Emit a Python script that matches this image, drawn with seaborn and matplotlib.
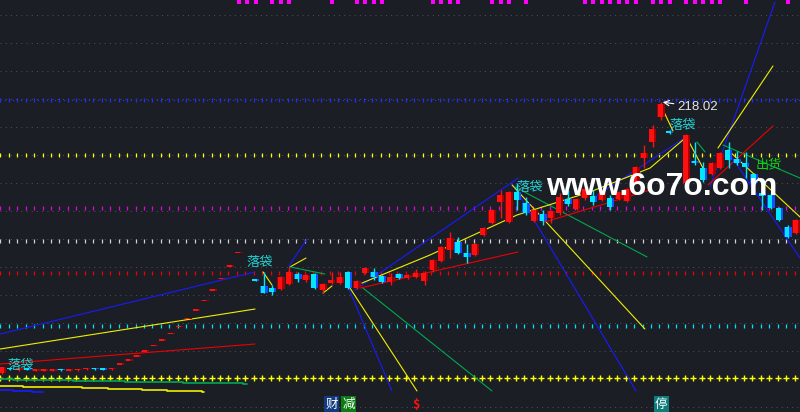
import numpy as np
import pandas as pd
import matplotlib.pyplot as plt
import seaborn as sns

# bar index on x, price on y
opens = [23.0, 26.6, 25.2, 25.9, 24.5, 24.5, 24.6, 25.6, 24.5, 25.0,
         25.6, 26.2, 26.0, 25.9, 28.8, 31.7, 34.9, 38.3, 42.2, 46.4,
         51.0, 56.1, 61.7, 67.9, 74.7, 82.2, 90.4, 99.4, 109.4, np.nan,
         90.4, 85.7, 84.2, 83.5, 87.1, 94.3, 90.0, 94.3, 82.8, 87.8,
         87.8, 95.8, 84.2, 95.0, 95.8, 92.9, 88.6, 94.3, 91.4, 92.2,
         89.3, 97.2, 103.7, 111.6, 117.4, 109.4, 108.0, 122.4, 131.0, 146.2,
         131.8, 153.4, 145.4, 132.5, 137.5, 134.6, 138.2, 148.3, 141.1, 149.0,
         150.5, 147.6, 149.0, 148.3, 146.9, 159.8, 177.8, 189.4, 207.4, 197.3,
         np.nan, 159.8, 175.7, 170.6, 166.3, 170.6, 183.6, 177.1, 174.2, 166.3,
         152.6, 151.2, 141.8, 128.2, 123.8]
highs = [27.4, 27.0, 26.2, 26.3, 25.6, 25.4, 25.6, 25.9, 25.5, 25.9,
         26.6, 26.5, 26.3, 26.9, 28.8, 31.7, 34.9, 38.3, 42.2, 46.4,
         51.0, 56.1, 61.7, 67.9, 74.7, 82.2, 90.4, 99.4, 109.4, np.nan,
         90.4, 95.8, 86.4, 92.9, 99.4, 95.8, 94.3, 95.0, 87.8, 95.8,
         95.8, 96.5, 90.0, 99.4, 98.6, 93.6, 95.0, 95.0, 94.3, 97.9,
         96.5, 105.1, 114.5, 124.6, 121.0, 115.9, 116.6, 128.2, 141.1, 154.8,
         154.1, 159.8, 149.8, 141.1, 140.4, 140.4, 152.6, 154.8, 149.0, 163.4,
         154.8, 154.1, 151.2, 154.1, 156.2, 172.1, 187.2, 201.6, 218.02, 198.0,
         np.nan, 195.1, 189.4, 175.0, 175.0, 182.2, 189.4, 182.9, 182.2, 167.0,
         157.0, 152.6, 142.6, 129.6, 134.0]
lows = [22.5, 25.5, 24.8, 24.9, 24.2, 24.2, 24.3, 24.7, 24.2, 24.8,
        25.2, 25.3, 25.1, 25.5, 28.8, 31.7, 34.9, 38.3, 42.2, 46.4,
        51.0, 56.1, 61.7, 67.9, 74.7, 82.2, 90.4, 99.4, 109.4, np.nan,
        89.6, 80.6, 79.2, 82.8, 86.4, 88.6, 88.6, 83.5, 80.6, 87.1,
        87.1, 83.5, 83.5, 94.3, 90.0, 87.8, 86.4, 90.7, 90.7, 91.4,
        86.4, 95.8, 103.0, 105.8, 108.7, 102.2, 107.3, 121.7, 130.3, 134.6,
        131.0, 140.4, 136.8, 131.8, 129.6, 131.0, 136.8, 143.3, 140.4, 147.6,
        144.0, 146.9, 140.4, 147.6, 146.2, 159.1, 170.6, 185.8, 205.2, 195.1,
        np.nan, 158.4, 172.8, 160.6, 165.6, 169.9, 170.6, 172.8, 163.4, 159.1,
        140.4, 141.1, 132.5, 120.2, 123.1]
closes = [27.4, 25.9, 25.9, 25.2, 25.2, 25.0, 25.2, 25.0, 25.2, 25.6,
          25.9, 25.6, 25.4, 26.2, 28.8, 31.7, 34.9, 38.3, 42.2, 46.4,
          51.0, 56.1, 61.7, 67.9, 74.7, 82.2, 90.4, 99.4, 109.4, np.nan,
          89.6, 80.6, 81.4, 92.2, 95.8, 90.7, 93.6, 84.2, 87.1, 90.0,
          92.2, 84.2, 89.3, 98.6, 92.2, 88.6, 92.2, 91.4, 93.6, 95.0,
          95.0, 104.4, 113.8, 120.2, 109.4, 106.6, 115.9, 127.4, 140.4, 151.2,
          153.4, 147.6, 138.2, 140.4, 132.5, 139.7, 149.8, 144.7, 148.3, 155.5,
          146.2, 152.6, 142.6, 153.4, 155.5, 171.4, 181.4, 198.7, 216.5, 195.8,
          np.nan, 194.4, 174.2, 162.0, 174.2, 181.4, 176.4, 174.2, 171.4, 159.8,
          150.5, 141.8, 133.2, 121.0, 133.2]

# horizontal levels: price, colour, marker
level_prices = [219.6, 180.0, 141.5, 118.1, 95.0, 56.9, 19.4]
level_colors = ['#2030ff', '#ffff00', '#e800e8', '#d0d0d0', '#ee0000', '#00e0ff', '#ffff00']
level_marks = ['|', '|', '|', '|', '|', '|', '+']

# trend lines (x0, p0, x1, p1)
blue_lines = [(-0.24, 51.1, 29.94, 95.8), (33.96, 100.1, 36.09, 119.5),
              (41.78, 82.8, 61.07, 163.4), (40.95, 85.0, 46.15, 10.1),
              (60.36, 159.8, 75.03, 10.1), (69.59, 147.6, 80.59, 191.5),
              (83.79, 157.0, 91.48, 290.2), (85.80, 183.6, 94.44, 105.8)]
yellow_lines = [(-0.24, 40.3, 29.94, 69.1), (34.08, 99.4, 35.97, 105.8),
                (30.89, 95.8, 31.95, 86.4), (37.99, 80.6, 39.05, 85.7),
                (41.18, 84.2, 49.11, 10.1), (60.36, 158.4, 76.09, 54.7),
                (84.73, 185.0, 91.24, 244.1), (85.92, 183.6, 94.44, 135.4),
                (78.34, 211.0, 79.41, 197.3), (81.18, 190.8, 82.96, 170.6)]
green_lines = [(34.08, 99.4, 38.22, 94.3), (42.72, 84.2, 57.99, 10.1),
               (60.71, 157.0, 76.33, 106.6), (85.33, 187.2, 94.44, 163.4),
               (82.25, 189.4, 83.20, 182.2)]
red_lines = [(-0.24, 29.5, 29.94, 43.9), (42.37, 84.2, 61.07, 110.2),
             (64.26, 131.8, 76.69, 154.8), (83.55, 158.4, 91.24, 200.9)]
yellow_ma_x = [42.60, 50.65, 60.95, 69.59, 76.69, 80.59]
yellow_ma_p = [87.8, 108.0, 136.8, 153.4, 170.6, 190.8]

# step lines along the bottom-left
ystep_x = [-0.24, 2.49, 6.51, 9.47, 12.54, 16.57, 19.53, 23.67, 23.91]
ystep_p = [13.7, 13.0, 13.0, 12.2, 11.5, 10.8, 10.1, 9.4, 9.4]
gstep_x = [-0.24, 1.30, 8.40, 14.56, 21.42, 28.52, 28.99]
gstep_p = [18.7, 18.0, 17.3, 16.6, 15.8, 15.1, 15.1]
bstep_x = [-0.24, 1.30, 3.55, 4.85]
bstep_p = [10.8, 10.1, 9.4, 9.4]

# markers / labels
top_marks = [28, 29, 30, 32, 33, 34, 39, 42, 43, 44, 45, 51, 52, 53, 54, 58, 59, 60, 62,
             69, 70, 71, 72, 73, 74, 75, 77, 78, 79, 81, 82, 83, 84, 85, 88, 93]
take_profit_x = [2.19, 30.47, 62.43, 80.53]
take_profit_p = [28.4, 102.6, 156.6, 201.2]
signal_idx = [39, 41, 49, 78]
signal_text = ['财', '减', '$', '停']
signal_bg = ['#123a80', '#0b7d14', None, '#0f7c7c']

BG = '#1b1e25'
sns.set_theme(style='dark', rc={'axes.facecolor': BG, 'figure.facecolor': BG})
plt.rcParams['font.family'] = ['Noto Sans CJK SC', 'DejaVu Sans']

df = pd.DataFrame({'open': opens, 'high': highs, 'low': lows, 'close': closes})
df['idx'] = np.arange(len(df))
df = df.dropna()
df['up'] = df['close'] >= df['open']
df['lo'] = df[['open', 'close']].min(axis=1)
df['h'] = (df['close'] - df['open']).abs().clip(lower=1.1)

fig = plt.figure(figsize=(8, 4.12), dpi=100)
ax = fig.add_axes([0, 0, 1, 1])
ax.set_xlim(-0.24, 94.44)
ax.set_ylim(-5.04, 291.6)
ax.axis('off')

# dotted background grid
for p in np.arange(-1.44, 291, 20.16):
    ax.axhline(p, color='#4b4f58', lw=0.75, dashes=(1, 4), zorder=0.5)

# level lines made of short ticks
ticks = np.arange(0, 95) - 0.2
for p, c, m in zip(level_prices, level_colors, level_marks):
    if m == '+':
        ax.plot(ticks, [p] * len(ticks), ls='none', marker='+', ms=4, mew=1.0, color=c, zorder=1)
    else:
        ax.plot(ticks, [p] * len(ticks), ls='none', marker='|', ms=2.4, mew=0.9, color=c, zorder=1)
ax.plot(ticks + 0.5, [level_prices[0]] * len(ticks), ls='none', marker='s', ms=0.9,
        mew=0, color=level_colors[0], zorder=1)

# trend lines
for segs, col in [(blue_lines, '#1a1aff'), (yellow_lines, '#f0f000'),
                  (green_lines, '#00a850'), (red_lines, '#ee0000')]:
    for x0, p0, x1, p1 in segs:
        sns.lineplot(x=[x0, x1], y=[p0, p1], ax=ax, color=col, lw=0.8,
                     estimator=None, sort=False, legend=False, zorder=2)
sns.lineplot(x=yellow_ma_x, y=yellow_ma_p, ax=ax, color='#f0f000', lw=0.8,
             estimator=None, sort=False, legend=False, zorder=2)
for xs, ps, col in [(ystep_x, ystep_p, '#f0f000'), (gstep_x, gstep_p, '#00a850'),
                    (bstep_x, bstep_p, '#1a1aff')]:
    ax.plot(xs, ps, drawstyle='steps-post', color=col, lw=1.2, zorder=2)

# candles
for up, edge, face in [(True, '#a80000', '#ff1010'), (False, '#1450ff', '#00e8ff')]:
    d = df[df['up'] == up]
    ax.vlines(d['idx'], d['low'], d['high'], color=face, lw=1.0, zorder=3)
    ax.bar(d['idx'], d['h'], bottom=d['lo'], width=0.9, color=edge, linewidth=0, zorder=3)
    ax.bar(d['idx'] - 0.1, d['h'], bottom=d['lo'], width=0.56, color=face, linewidth=0, zorder=3)

# magenta markers along the top
sns.scatterplot(x=top_marks, y=[290.0] * len(top_marks), ax=ax, marker='s', s=6,
                color='#ff00ff', linewidth=0, legend=False, zorder=4)

# text labels
for x, p in zip(take_profit_x, take_profit_p):
    ax.text(x, p, '落袋', color='#22d3d3', fontsize=9.5, ha='center', va='center', zorder=5)
ax.text(90.71, 172.5, '出货', color='#10d010', fontsize=9.5, ha='center', va='center', zorder=5)
ax.annotate('218.02', xy=(78.2, 218.02), xytext=(79.9, 214.6), color='#e6e6e6',
            fontsize=9.5, family='Liberation Sans', va='center', ha='left', zorder=5,
            arrowprops=dict(arrowstyle='->', color='white', lw=0.8, shrinkA=0, shrinkB=0))
for i, t, bg in zip(signal_idx, signal_text, signal_bg):
    kw = dict(bbox=dict(boxstyle='square,pad=0.1', fc=bg, ec='none')) if bg else {}
    ax.text(i, 0.019, t, transform=ax.get_xaxis_transform(), fontsize=9,
            color='white' if bg else '#ff1010', fontweight='bold' if not bg else 'normal',
            ha='center', va='center', zorder=5, **kw)

# watermark
ax.text(0.8275, 0.546, 'www.6o7o.com', transform=ax.transAxes, fontsize=23,
        fontweight='bold', family='Liberation Sans', color='white', ha='center', va='center', zorder=6)

plt.savefig('out.png', dpi=100, facecolor=BG)
